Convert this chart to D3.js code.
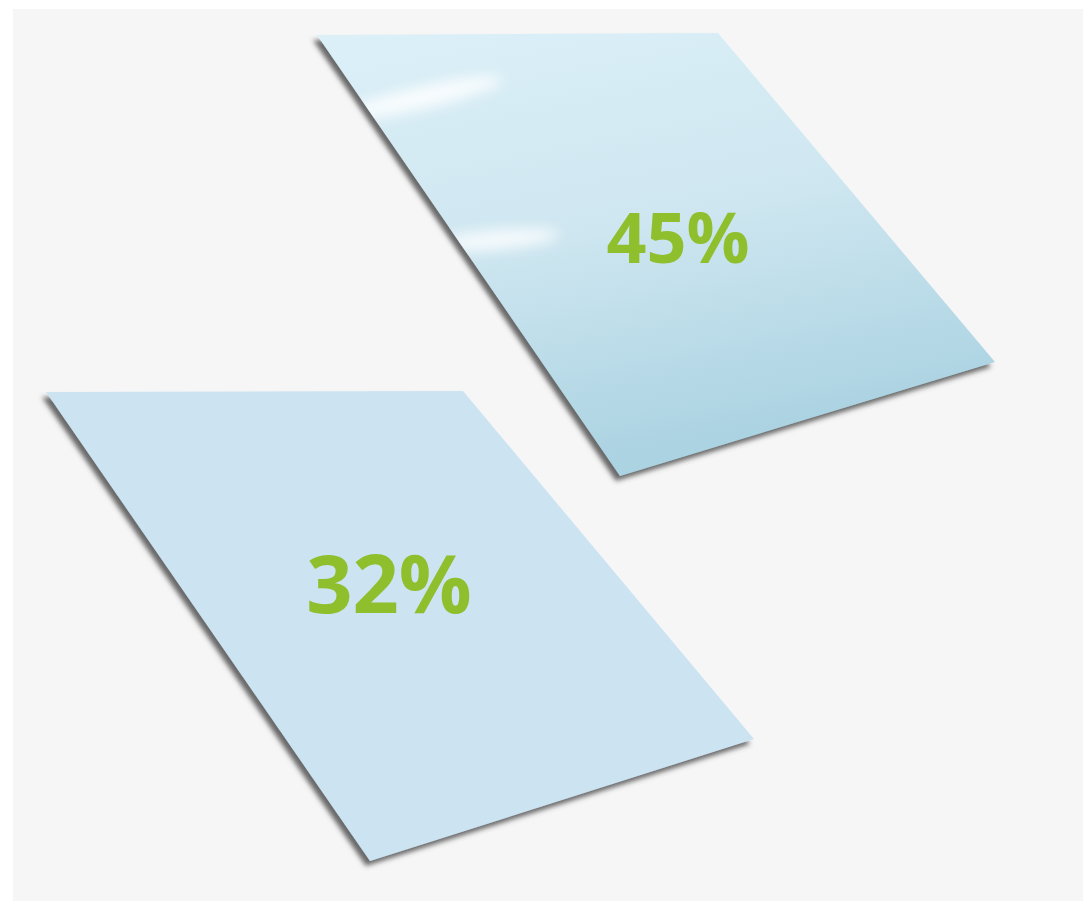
<!DOCTYPE html>
<html>
<head>
<meta charset="utf-8">
<script src="https://cdn.jsdelivr.net/npm/d3@7.9.0/dist/d3.min.js"></script>
<style>
  html, body { margin: 0; padding: 0; background: #ffffff; }
  svg { display: block; }
</style>
</head>
<body>
<script>
// Chart data
const labels = ["45%", "32%"];
const values = [45, 32];

const width = 1083, height = 902;

const svg = d3.select("body").append("svg")
    .attr("width", width)
    .attr("height", height);

const defs = svg.append("defs");

// Drop shadow (falls to the lower left)
const shadow = defs.append("filter")
    .attr("id", "shadow")
    .attr("x", "-10%").attr("y", "-10%")
    .attr("width", "120%").attr("height", "120%");
shadow.append("feDropShadow")
    .attr("dx", -4).attr("dy", 5)
    .attr("stdDeviation", 2.5)
    .attr("flood-color", "#444")
    .attr("flood-opacity", 0.8);

// Sky-like gradient for the upper panel
const sky = defs.append("linearGradient")
    .attr("id", "sky")
    .attr("x1", "0%").attr("y1", "0%")
    .attr("x2", "30%").attr("y2", "100%");
sky.append("stop").attr("offset", "0%").attr("stop-color", "#dcf0f8");
sky.append("stop").attr("offset", "50%").attr("stop-color", "#cfe7f1");
sky.append("stop").attr("offset", "100%").attr("stop-color", "#acd3e2");

const glow = defs.append("filter").attr("id", "glow")
    .attr("x", "-50%").attr("y", "-50%").attr("width", "200%").attr("height", "200%");
glow.append("feGaussianBlur").attr("stdDeviation", 7);

// Background panel
svg.append("rect")
    .attr("x", 13).attr("y", 9)
    .attr("width", width - 13).attr("height", height - 10)
    .attr("fill", "#f6f6f6");

// Panel layout: skewed quads (corners TL, TR, BR, BL) and label placement
const panels = [
  { corners: [[317, 35], [718, 33], [995, 362], [620, 476]], fill: "url(#sky)", text: [678, 263], size: 70 },
  { corners: [[46, 392], [463, 391], [754, 739], [370, 861]], fill: "#cce3f2", text: [389, 613], size: 81 }
];

const line = d3.line().curve(d3.curveLinearClosed);

const g = svg.selectAll("g.panel")
    .data(values)
    .join("g")
    .attr("class", "panel");

g.append("path")
    .attr("d", (d, i) => line(panels[i].corners))
    .attr("fill", (d, i) => panels[i].fill)
    .attr("filter", "url(#shadow)");

// Soft white highlights on the upper panel
defs.append("clipPath").attr("id", "clip0")
  .append("path").attr("d", line(panels[0].corners));

const hl = svg.append("g").attr("clip-path", "url(#clip0)");
hl.append("ellipse")
    .attr("cx", 420).attr("cy", 98).attr("rx", 85).attr("ry", 11)
    .attr("transform", "rotate(-13 420 98)")
    .attr("fill", "#ffffff").attr("opacity", 0.85)
    .attr("filter", "url(#glow)");
hl.append("ellipse")
    .attr("cx", 495).attr("cy", 240).attr("rx", 65).attr("ry", 10)
    .attr("transform", "rotate(-5 495 240)")
    .attr("fill", "#ffffff").attr("opacity", 0.8)
    .attr("filter", "url(#glow)");

// Value labels
svg.selectAll("text.value")
    .data(values)
    .join("text")
    .attr("class", "value")
    .attr("x", (d, i) => panels[i].text[0])
    .attr("y", (d, i) => panels[i].text[1])
    .attr("text-anchor", "middle")
    .attr("font-family", "'Open Sans', sans-serif")
    .attr("font-weight", 700)
    .attr("font-size", (d, i) => panels[i].size)
    .attr("fill", "#8fbf2c")
    .text((d, i) => labels[i]);
</script>
</body>
</html>
